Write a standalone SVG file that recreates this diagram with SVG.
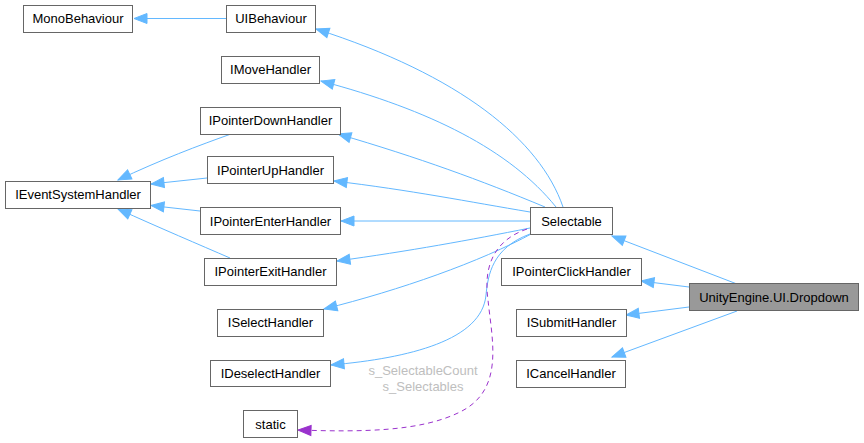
<svg xmlns="http://www.w3.org/2000/svg" width="864" height="443" viewBox="0 0 864 443">
<style>
.n rect{fill:#fff;stroke:#666;stroke-width:1}
.n text{font-family:"Liberation Sans",Arial,sans-serif;font-size:13px;fill:#000;text-anchor:middle}
#dropdown rect{fill:#999}
.e{fill:none;stroke:#63b8ff;stroke-width:1}
.d{fill:none;stroke:#9a32cd;stroke-width:1;stroke-dasharray:5,4}
.lbl{font-family:"Liberation Sans",Arial,sans-serif;font-size:13px;fill:#bebebe;text-anchor:middle}
</style>
<defs>
<marker id="a" markerUnits="userSpaceOnUse" markerWidth="15" markerHeight="12" refX="14" refY="6" orient="auto" overflow="visible">
<path d="M1,1 L14,6 L1,11 z" fill="#63b8ff" stroke="#63b8ff"/>
</marker>
<marker id="p" markerUnits="userSpaceOnUse" markerWidth="15" markerHeight="12" refX="14" refY="6" orient="auto" overflow="visible">
<path d="M1,1 L14,6 L1,11 z" fill="#9a32cd" stroke="#9a32cd"/>
</marker>
</defs>
<g id="edges">
<path class="e" marker-end="url(#a)" d="M226,18.5 L134,18.5"/>
<path class="e" marker-end="url(#a)" d="M563,207 C540,140 460,75 316,29"/>
<path class="e" marker-end="url(#a)" d="M556,207 C510,150 430,110 321,81"/>
<path class="e" marker-end="url(#a)" d="M545,207 C480,180 420,158 338,134"/>
<path class="e" marker-end="url(#a)" d="M530,212 C470,202 410,190 334,181"/>
<path class="e" marker-end="url(#a)" d="M530,221 L341,221"/>
<path class="e" marker-end="url(#a)" d="M530,228 C470,240 410,251 337,261"/>
<path class="e" marker-end="url(#a)" d="M533,233 C480,262 400,290 324,309"/>
<path class="e" marker-end="url(#a)" d="M530,234 C492,248 488,275 486,295 C482,340 410,358 331,365"/>
<path class="d" marker-end="url(#p)" d="M527,229 C495,240 483,265 488,300 C492,340 505,390 460,412 C420,432 360,432 298,430"/>
<path class="e" marker-end="url(#a)" d="M737,284 L612,236"/>
<path class="e" marker-end="url(#a)" d="M689,287 L641,281"/>
<path class="e" marker-end="url(#a)" d="M689,307 L626,315"/>
<path class="e" marker-end="url(#a)" d="M737,311 L612,357"/>
<path class="e" marker-end="url(#a)" d="M231,134 C200,145 160,160 118,180"/>
<path class="e" marker-end="url(#a)" d="M207,178 L151,184"/>
<path class="e" marker-end="url(#a)" d="M200,211 L151,205.5"/>
<path class="e" marker-end="url(#a)" d="M230,258 C200,245 160,228 118,209"/>
<text class="lbl" x="423" y="375">s_SelectableCount</text>
<text class="lbl" x="423" y="391">s_Selectables</text>
</g>
<g id="monobehaviour" class="n"><rect x="23.5" y="5.5" width="109" height="27"/><text x="78" y="23">MonoBehaviour</text></g>
<g id="uibehaviour" class="n"><rect x="226.5" y="5.5" width="89" height="27"/><text x="271" y="23">UIBehaviour</text></g>
<g id="imovehandler" class="n"><rect x="221.5" y="56.5" width="98" height="27"/><text x="270.5" y="74">IMoveHandler</text></g>
<g id="ipointerdownhandler" class="n"><rect x="200.5" y="107.5" width="140" height="27"/><text x="270.5" y="125">IPointerDownHandler</text></g>
<g id="ieventsystemhandler" class="n"><rect x="5.5" y="181.5" width="145" height="27"/><text x="78" y="199">IEventSystemHandler</text></g>
<g id="ipointeruphandler" class="n"><rect x="207.5" y="156.5" width="126" height="27"/><text x="270.5" y="174.5">IPointerUpHandler</text></g>
<g id="ipointerenterhandler" class="n"><rect x="200.5" y="207.5" width="140" height="27"/><text x="270.5" y="225.5">IPointerEnterHandler</text></g>
<g id="ipointerexithandler" class="n"><rect x="204.5" y="258.5" width="132" height="27"/><text x="270.5" y="276">IPointerExitHandler</text></g>
<g id="iselecthandler" class="n"><rect x="217.5" y="309.5" width="106" height="27"/><text x="270.5" y="327">ISelectHandler</text></g>
<g id="ideselecthandler" class="n"><rect x="210.5" y="360.5" width="120" height="26"/><text x="270.5" y="378">IDeselectHandler</text></g>
<g id="static" class="n"><rect x="243.5" y="410.5" width="54" height="27"/><text x="270.5" y="428.5">static</text></g>
<g id="selectable" class="n"><rect x="530.5" y="207.5" width="82" height="27"/><text x="571.5" y="225.5">Selectable</text></g>
<g id="ipointerclickhandler" class="n"><rect x="501.5" y="258.5" width="140" height="27"/><text x="571.5" y="276">IPointerClickHandler</text></g>
<g id="dropdown" class="n"><rect x="689.5" y="283.5" width="169" height="27"/><text x="774" y="301.5">UnityEngine.UI.Dropdown</text></g>
<g id="isubmithandler" class="n"><rect x="516.5" y="309.5" width="110" height="27"/><text x="571.5" y="327">ISubmitHandler</text></g>
<g id="icancelhandler" class="n"><rect x="516.5" y="360.5" width="109" height="27"/><text x="571" y="378">ICancelHandler</text></g>
</svg>
